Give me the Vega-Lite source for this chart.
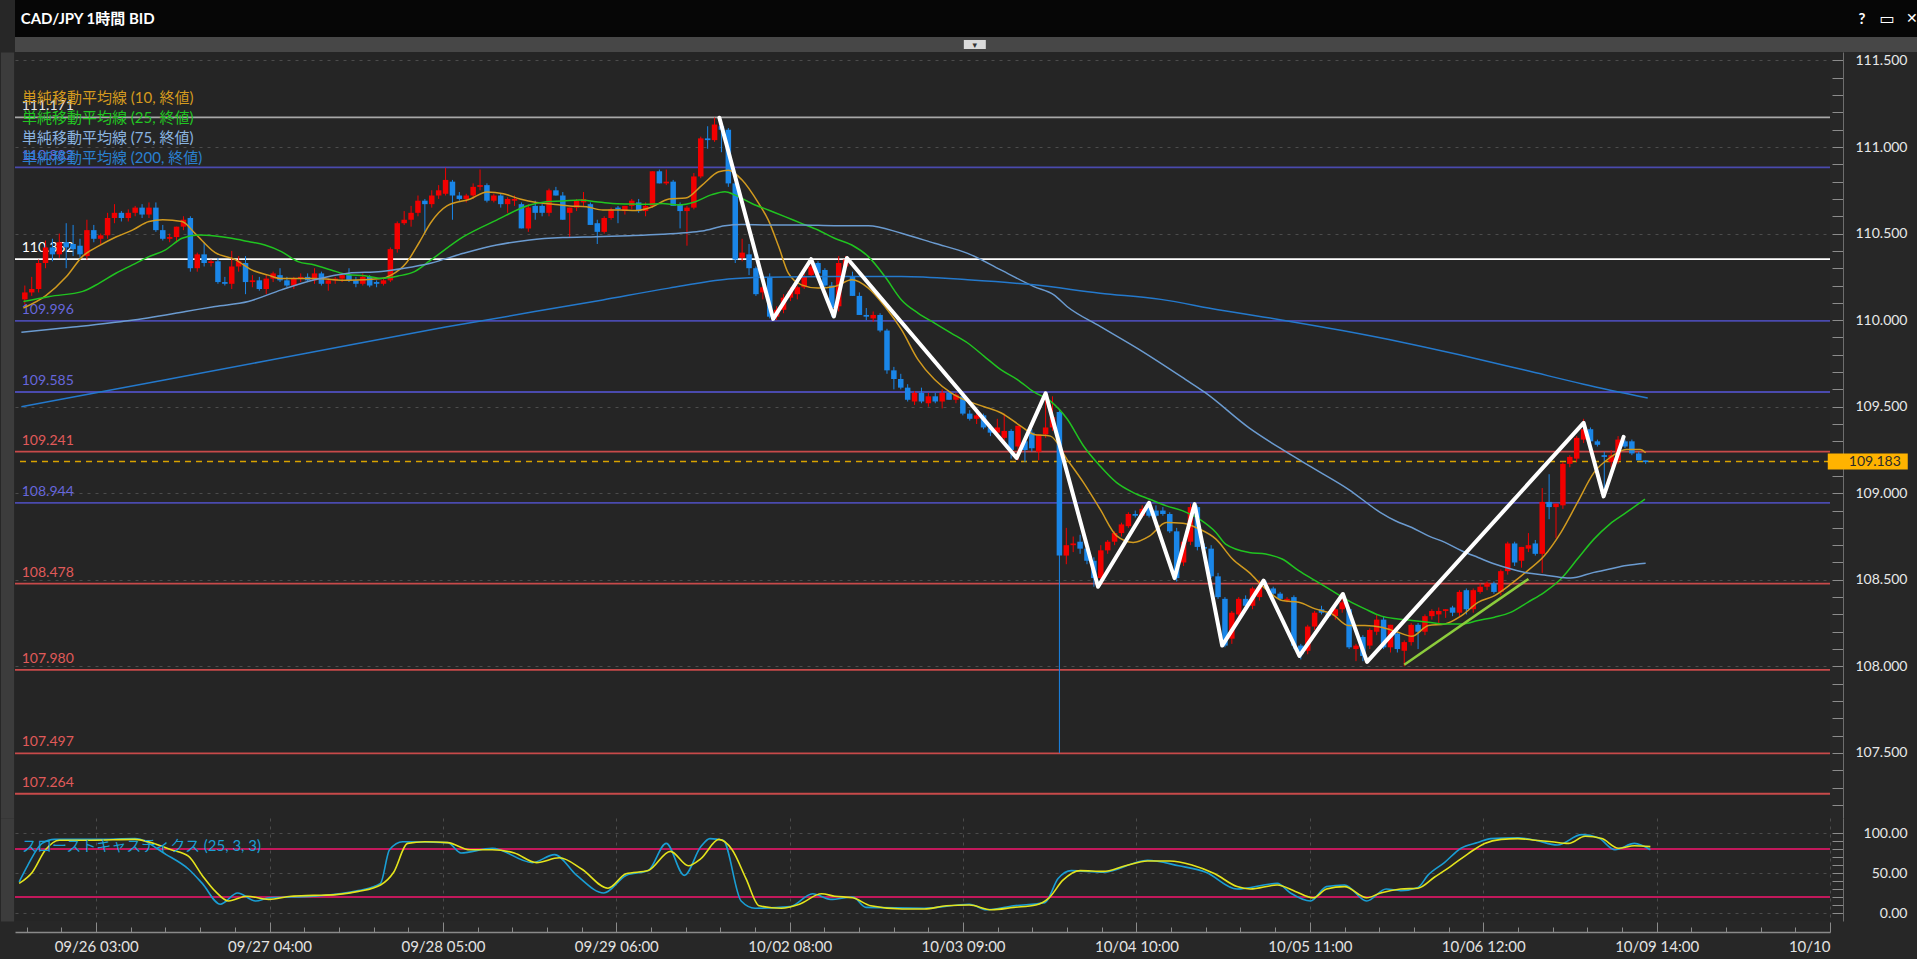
{
"$schema": "https://vega.github.io/schema/vega-lite/v6.json",
"background": "#272727",
"padding": 0,
"spacing": 0,
"align": "none",
"config": {"font": "Lato", "view": {"stroke": null}},
"datasets": {
"candles": [
{"b":-11,"o":110.12,"h":110.2,"l":110.09,"c":110.16},{"b":-10,"o":110.16,"h":110.25,"l":110.14,"c":110.18},{"b":-9,"o":110.18,"h":110.35,"l":110.16,"c":110.33},{"b":-8,"o":110.33,"h":110.46,"l":110.3,"c":110.42},{"b":-7,"o":110.42,"h":110.47,"l":110.34,"c":110.38},{"b":-6,"o":110.38,"h":110.5,"l":110.36,"c":110.45},{"b":-5,"o":110.45,"h":110.56,"l":110.3,"c":110.42},{"b":-4,"o":110.44,"h":110.55,"l":110.37,"c":110.41},{"b":-3,"o":110.43,"h":110.47,"l":110.36,"c":110.38},{"b":-2,"o":110.37,"h":110.58,"l":110.35,"c":110.52},
{"b":-1,"o":110.52,"h":110.55,"l":110.45,"c":110.47},{"b":0,"o":110.47,"h":110.5,"l":110.44,"c":110.49},{"b":1,"o":110.49,"h":110.62,"l":110.47,"c":110.59},{"b":2,"o":110.59,"h":110.67,"l":110.56,"c":110.62},{"b":3,"o":110.62,"h":110.63,"l":110.57,"c":110.59},{"b":4,"o":110.59,"h":110.64,"l":110.57,"c":110.62},{"b":5,"o":110.62,"h":110.66,"l":110.6,"c":110.65},{"b":6,"o":110.65,"h":110.67,"l":110.59,"c":110.61},{"b":7,"o":110.61,"h":110.68,"l":110.59,"c":110.65},{"b":8,"o":110.65,"h":110.68,"l":110.51,"c":110.52},
{"b":9,"o":110.52,"h":110.55,"l":110.46,"c":110.47},{"b":10,"o":110.47,"h":110.5,"l":110.45,"c":110.48},{"b":11,"o":110.48,"h":110.54,"l":110.45,"c":110.54},{"b":12,"o":110.54,"h":110.6,"l":110.52,"c":110.58},{"b":13,"o":110.59,"h":110.6,"l":110.28,"c":110.3},{"b":14,"o":110.3,"h":110.39,"l":110.28,"c":110.38},{"b":15,"o":110.38,"h":110.45,"l":110.31,"c":110.33},{"b":16,"o":110.33,"h":110.35,"l":110.31,"c":110.34},{"b":17,"o":110.34,"h":110.36,"l":110.21,"c":110.22},{"b":18,"o":110.22,"h":110.25,"l":110.2,"c":110.21},
{"b":19,"o":110.21,"h":110.4,"l":110.18,"c":110.31},{"b":20,"o":110.31,"h":110.37,"l":110.28,"c":110.34},{"b":21,"o":110.33,"h":110.37,"l":110.15,"c":110.22},{"b":22,"o":110.22,"h":110.26,"l":110.19,"c":110.23},{"b":23,"o":110.23,"h":110.25,"l":110.17,"c":110.18},{"b":24,"o":110.18,"h":110.26,"l":110.15,"c":110.24},{"b":25,"o":110.24,"h":110.28,"l":110.22,"c":110.27},{"b":26,"o":110.26,"h":110.3,"l":110.22,"c":110.23},{"b":27,"o":110.23,"h":110.25,"l":110.19,"c":110.2},{"b":28,"o":110.2,"h":110.25,"l":110.18,"c":110.24},
{"b":29,"o":110.24,"h":110.27,"l":110.22,"c":110.25},{"b":30,"o":110.25,"h":110.27,"l":110.22,"c":110.23},{"b":31,"o":110.23,"h":110.3,"l":110.21,"c":110.27},{"b":32,"o":110.27,"h":110.28,"l":110.2,"c":110.21},{"b":33,"o":110.21,"h":110.24,"l":110.17,"c":110.23},{"b":34,"o":110.23,"h":110.25,"l":110.21,"c":110.24},{"b":35,"o":110.24,"h":110.27,"l":110.22,"c":110.26},{"b":36,"o":110.26,"h":110.3,"l":110.22,"c":110.23},{"b":37,"o":110.23,"h":110.25,"l":110.19,"c":110.21},{"b":38,"o":110.21,"h":110.27,"l":110.2,"c":110.25},
{"b":39,"o":110.25,"h":110.26,"l":110.19,"c":110.2},{"b":40,"o":110.22,"h":110.23,"l":110.19,"c":110.21},{"b":41,"o":110.21,"h":110.24,"l":110.2,"c":110.23},{"b":42,"o":110.23,"h":110.42,"l":110.22,"c":110.41},{"b":43,"o":110.41,"h":110.57,"l":110.39,"c":110.56},{"b":44,"o":110.56,"h":110.63,"l":110.55,"c":110.58},{"b":45,"o":110.58,"h":110.66,"l":110.54,"c":110.62},{"b":46,"o":110.62,"h":110.72,"l":110.6,"c":110.69},{"b":47,"o":110.69,"h":110.7,"l":110.5,"c":110.67},{"b":48,"o":110.67,"h":110.75,"l":110.65,"c":110.72},
{"b":49,"o":110.72,"h":110.78,"l":110.7,"c":110.75},{"b":50,"o":110.73,"h":110.88,"l":110.72,"c":110.81},{"b":51,"o":110.8,"h":110.81,"l":110.58,"c":110.72},{"b":52,"o":110.72,"h":110.74,"l":110.69,"c":110.7},{"b":53,"o":110.7,"h":110.73,"l":110.68,"c":110.72},{"b":54,"o":110.72,"h":110.79,"l":110.7,"c":110.77},{"b":55,"o":110.77,"h":110.87,"l":110.75,"c":110.78},{"b":56,"o":110.78,"h":110.79,"l":110.68,"c":110.69},{"b":57,"o":110.69,"h":110.73,"l":110.68,"c":110.72},{"b":58,"o":110.72,"h":110.73,"l":110.65,"c":110.67},
{"b":59,"o":110.67,"h":110.71,"l":110.62,"c":110.7},{"b":60,"o":110.69,"h":110.72,"l":110.66,"c":110.7},{"b":61,"o":110.67,"h":110.68,"l":110.53,"c":110.53},{"b":62,"o":110.53,"h":110.67,"l":110.51,"c":110.65},{"b":63,"o":110.66,"h":110.69,"l":110.58,"c":110.62},{"b":64,"o":110.66,"h":110.67,"l":110.6,"c":110.62},{"b":65,"o":110.62,"h":110.76,"l":110.6,"c":110.75},{"b":66,"o":110.75,"h":110.77,"l":110.72,"c":110.72},{"b":67,"o":110.72,"h":110.74,"l":110.58,"c":110.58},{"b":68,"o":110.62,"h":110.65,"l":110.48,"c":110.65},
{"b":69,"o":110.65,"h":110.7,"l":110.63,"c":110.69},{"b":70,"o":110.68,"h":110.74,"l":110.66,"c":110.7},{"b":71,"o":110.67,"h":110.68,"l":110.55,"c":110.55},{"b":72,"o":110.56,"h":110.58,"l":110.44,"c":110.51},{"b":73,"o":110.51,"h":110.6,"l":110.5,"c":110.59},{"b":74,"o":110.59,"h":110.65,"l":110.58,"c":110.64},{"b":75,"o":110.65,"h":110.66,"l":110.56,"c":110.64},{"b":76,"o":110.63,"h":110.66,"l":110.61,"c":110.66},{"b":77,"o":110.66,"h":110.7,"l":110.64,"c":110.69},{"b":78,"o":110.68,"h":110.7,"l":110.62,"c":110.63},
{"b":79,"o":110.63,"h":110.68,"l":110.6,"c":110.66},{"b":80,"o":110.66,"h":110.86,"l":110.65,"c":110.86},{"b":81,"o":110.86,"h":110.87,"l":110.79,"c":110.79},{"b":82,"o":110.79,"h":110.87,"l":110.78,"c":110.8},{"b":83,"o":110.8,"h":110.81,"l":110.66,"c":110.66},{"b":84,"o":110.67,"h":110.68,"l":110.53,"c":110.63},{"b":85,"o":110.63,"h":110.66,"l":110.43,"c":110.65},{"b":86,"o":110.65,"h":110.85,"l":110.64,"c":110.83},{"b":87,"o":110.83,"h":111.06,"l":110.82,"c":111.05},{"b":88,"o":111.05,"h":111.12,"l":110.99,"c":111.04},
{"b":89,"o":111.04,"h":111.17,"l":111.03,"c":111.13},{"b":90,"o":111.12,"h":111.14,"l":110.97,"c":111.1},{"b":91,"o":111.1,"h":111.11,"l":110.77,"c":110.79},{"b":92,"o":110.79,"h":110.8,"l":110.33,"c":110.35},{"b":93,"o":110.36,"h":110.47,"l":110.34,"c":110.39},{"b":94,"o":110.38,"h":110.44,"l":110.26,"c":110.3},{"b":95,"o":110.3,"h":110.31,"l":110.14,"c":110.15},{"b":96,"o":110.16,"h":110.2,"l":110.12,"c":110.19},{"b":97,"o":110.25,"h":110.27,"l":110.01,"c":110.02},{"b":98,"o":110.02,"h":110.08,"l":110.0,"c":110.06},
{"b":99,"o":110.06,"h":110.15,"l":110.04,"c":110.13},{"b":100,"o":110.13,"h":110.19,"l":110.11,"c":110.17},{"b":101,"o":110.15,"h":110.2,"l":110.12,"c":110.19},{"b":102,"o":110.19,"h":110.27,"l":110.18,"c":110.25},{"b":103,"o":110.26,"h":110.35,"l":110.25,"c":110.31},{"b":104,"o":110.33,"h":110.34,"l":110.27,"c":110.27},{"b":105,"o":110.29,"h":110.3,"l":110.19,"c":110.2},{"b":106,"o":110.2,"h":110.22,"l":110.02,"c":110.07},{"b":107,"o":110.08,"h":110.37,"l":110.05,"c":110.33},{"b":108,"o":110.31,"h":110.37,"l":110.29,"c":110.35},
{"b":109,"o":110.25,"h":110.28,"l":110.14,"c":110.14},{"b":110,"o":110.14,"h":110.16,"l":110.03,"c":110.03},{"b":111,"o":110.03,"h":110.07,"l":110.0,"c":110.02},{"b":112,"o":110.01,"h":110.05,"l":109.99,"c":110.03},{"b":113,"o":110.03,"h":110.04,"l":109.93,"c":109.94},{"b":114,"o":109.94,"h":109.95,"l":109.69,"c":109.71},{"b":115,"o":109.71,"h":109.73,"l":109.6,"c":109.66},{"b":116,"o":109.66,"h":109.69,"l":109.6,"c":109.61},{"b":117,"o":109.61,"h":109.63,"l":109.53,"c":109.54},{"b":118,"o":109.53,"h":109.59,"l":109.51,"c":109.58},
{"b":119,"o":109.58,"h":109.61,"l":109.52,"c":109.53},{"b":120,"o":109.52,"h":109.58,"l":109.5,"c":109.56},{"b":121,"o":109.56,"h":109.58,"l":109.52,"c":109.53},{"b":122,"o":109.53,"h":109.6,"l":109.49,"c":109.58},{"b":123,"o":109.58,"h":109.59,"l":109.54,"c":109.54},{"b":124,"o":109.54,"h":109.58,"l":109.52,"c":109.57},{"b":125,"o":109.56,"h":109.57,"l":109.45,"c":109.46},{"b":126,"o":109.46,"h":109.48,"l":109.42,"c":109.43},{"b":127,"o":109.43,"h":109.47,"l":109.4,"c":109.45},{"b":128,"o":109.45,"h":109.46,"l":109.37,"c":109.38},
{"b":129,"o":109.38,"h":109.4,"l":109.33,"c":109.35},{"b":130,"o":109.35,"h":109.43,"l":109.33,"c":109.38},{"b":131,"o":109.32,"h":109.46,"l":109.3,"c":109.36},{"b":132,"o":109.36,"h":109.37,"l":109.2,"c":109.25},{"b":133,"o":109.27,"h":109.39,"l":109.19,"c":109.39},{"b":134,"o":109.3,"h":109.33,"l":109.18,"c":109.25},{"b":135,"o":109.35,"h":109.37,"l":109.24,"c":109.26},{"b":136,"o":109.24,"h":109.34,"l":109.19,"c":109.34},{"b":137,"o":109.34,"h":109.58,"l":109.32,"c":109.38},{"b":138,"o":109.38,"h":109.56,"l":109.36,"c":109.44},
{"b":139,"o":109.47,"h":109.48,"l":107.5,"c":108.64},{"b":140,"o":108.64,"h":108.8,"l":108.59,"c":108.7},{"b":141,"o":108.7,"h":108.75,"l":108.66,"c":108.71},{"b":142,"o":108.72,"h":108.76,"l":108.65,"c":108.68},{"b":143,"o":108.68,"h":108.7,"l":108.59,"c":108.61},{"b":144,"o":108.61,"h":108.63,"l":108.46,"c":108.51},{"b":145,"o":108.51,"h":108.7,"l":108.48,"c":108.67},{"b":146,"o":108.67,"h":108.73,"l":108.65,"c":108.72},{"b":147,"o":108.72,"h":108.78,"l":108.7,"c":108.77},{"b":148,"o":108.77,"h":108.83,"l":108.75,"c":108.82},
{"b":149,"o":108.81,"h":108.89,"l":108.8,"c":108.88},{"b":150,"o":108.88,"h":108.9,"l":108.86,"c":108.87},{"b":151,"o":108.87,"h":108.93,"l":108.86,"c":108.91},{"b":152,"o":108.92,"h":108.95,"l":108.86,"c":108.87},{"b":153,"o":108.9,"h":108.93,"l":108.86,"c":108.87},{"b":154,"o":108.9,"h":108.92,"l":108.87,"c":108.88},{"b":155,"o":108.88,"h":108.89,"l":108.77,"c":108.78},{"b":156,"o":108.78,"h":108.8,"l":108.49,"c":108.51},{"b":157,"o":108.6,"h":108.74,"l":108.58,"c":108.72},{"b":158,"o":108.72,"h":108.94,"l":108.7,"c":108.92},
{"b":159,"o":108.92,"h":108.93,"l":108.67,"c":108.69},{"b":160,"o":108.69,"h":108.71,"l":108.66,"c":108.68},{"b":161,"o":108.68,"h":108.7,"l":108.51,"c":108.52},{"b":162,"o":108.52,"h":108.54,"l":108.39,"c":108.4},{"b":163,"o":108.39,"h":108.4,"l":108.11,"c":108.12},{"b":164,"o":108.16,"h":108.32,"l":108.13,"c":108.31},{"b":165,"o":108.3,"h":108.4,"l":108.28,"c":108.39},{"b":166,"o":108.39,"h":108.41,"l":108.34,"c":108.35},{"b":167,"o":108.35,"h":108.46,"l":108.33,"c":108.45},{"b":168,"o":108.4,"h":108.5,"l":108.38,"c":108.46},
{"b":169,"o":108.46,"h":108.49,"l":108.44,"c":108.45},{"b":170,"o":108.45,"h":108.46,"l":108.41,"c":108.42},{"b":171,"o":108.42,"h":108.43,"l":108.38,"c":108.39},{"b":172,"o":108.38,"h":108.4,"l":108.37,"c":108.39},{"b":173,"o":108.4,"h":108.41,"l":108.1,"c":108.12},{"b":174,"o":108.12,"h":108.13,"l":108.04,"c":108.07},{"b":175,"o":108.09,"h":108.24,"l":108.07,"c":108.23},{"b":176,"o":108.23,"h":108.32,"l":108.21,"c":108.31},{"b":177,"o":108.33,"h":108.35,"l":108.3,"c":108.31},{"b":178,"o":108.31,"h":108.32,"l":108.28,"c":108.29},
{"b":179,"o":108.29,"h":108.34,"l":108.27,"c":108.33},{"b":180,"o":108.33,"h":108.42,"l":108.31,"c":108.37},{"b":181,"o":108.33,"h":108.34,"l":108.1,"c":108.11},{"b":182,"o":108.1,"h":108.13,"l":108.03,"c":108.12},{"b":183,"o":108.17,"h":108.18,"l":108.03,"c":108.06},{"b":184,"o":108.12,"h":108.22,"l":108.1,"c":108.21},{"b":185,"o":108.2,"h":108.3,"l":108.18,"c":108.27},{"b":186,"o":108.27,"h":108.29,"l":108.1,"c":108.11},{"b":187,"o":108.11,"h":108.24,"l":108.08,"c":108.24},{"b":188,"o":108.19,"h":108.21,"l":108.08,"c":108.1},
{"b":189,"o":108.09,"h":108.15,"l":108.0,"c":108.14},{"b":190,"o":108.14,"h":108.25,"l":108.12,"c":108.24},{"b":191,"o":108.24,"h":108.25,"l":108.1,"c":108.2},{"b":192,"o":108.2,"h":108.3,"l":108.18,"c":108.29},{"b":193,"o":108.29,"h":108.33,"l":108.27,"c":108.32},{"b":194,"o":108.3,"h":108.34,"l":108.25,"c":108.32},{"b":195,"o":108.32,"h":108.33,"l":108.28,"c":108.33},{"b":196,"o":108.34,"h":108.35,"l":108.29,"c":108.31},{"b":197,"o":108.31,"h":108.44,"l":108.29,"c":108.43},{"b":198,"o":108.44,"h":108.45,"l":108.3,"c":108.33},
{"b":199,"o":108.33,"h":108.45,"l":108.31,"c":108.44},{"b":200,"o":108.43,"h":108.48,"l":108.42,"c":108.46},{"b":201,"o":108.46,"h":108.49,"l":108.44,"c":108.48},{"b":202,"o":108.48,"h":108.49,"l":108.42,"c":108.43},{"b":203,"o":108.43,"h":108.56,"l":108.41,"c":108.55},{"b":204,"o":108.55,"h":108.72,"l":108.53,"c":108.71},{"b":205,"o":108.71,"h":108.72,"l":108.58,"c":108.6},{"b":206,"o":108.61,"h":108.69,"l":108.57,"c":108.69},{"b":207,"o":108.68,"h":108.77,"l":108.66,"c":108.7},{"b":208,"o":108.71,"h":108.73,"l":108.64,"c":108.65},
{"b":209,"o":108.65,"h":109.03,"l":108.54,"c":108.95},{"b":210,"o":108.95,"h":109.11,"l":108.85,"c":108.92},{"b":211,"o":108.92,"h":108.94,"l":108.74,"c":108.94},{"b":212,"o":108.93,"h":109.18,"l":108.91,"c":109.17},{"b":213,"o":109.17,"h":109.22,"l":109.15,"c":109.21},{"b":214,"o":109.2,"h":109.33,"l":109.18,"c":109.32},{"b":215,"o":109.31,"h":109.43,"l":109.29,"c":109.37},{"b":216,"o":109.37,"h":109.38,"l":109.28,"c":109.3},{"b":217,"o":109.3,"h":109.31,"l":109.27,"c":109.28},{"b":218,"o":109.22,"h":109.24,"l":108.98,"c":109.21},
{"b":219,"o":109.18,"h":109.25,"l":109.15,"c":109.22},{"b":220,"o":109.19,"h":109.33,"l":109.17,"c":109.31},{"b":221,"o":109.3,"h":109.31,"l":109.26,"c":109.27},{"b":222,"o":109.3,"h":109.31,"l":109.22,"c":109.23},{"b":223,"o":109.23,"h":109.24,"l":109.19,"c":109.19},{"b":224,"o":109.19,"h":109.19,"l":109.17,"c":109.18}
],
"ma": [
{"s":"10","b":-11.2,"v":110.07},{"s":"10","b":-8,"v":110.14},{"s":"10","b":-5,"v":110.25},{"s":"10","b":-2.6,"v":110.37},{"s":"10","b":-0.2,"v":110.43},{"s":"10","b":2.2,"v":110.48},{"s":"10","b":4.6,"v":110.52},{"s":"10","b":7,"v":110.57},{"s":"10","b":9,"v":110.58},{"s":"10","b":11.8,"v":110.57},{"s":"10","b":13.7,"v":110.5},{"s":"10","b":16.6,"v":110.39},{"s":"10","b":19.5,"v":110.35},{"s":"10","b":21.9,"v":110.29},{"s":"10","b":24.3,"v":110.26},{"s":"10","b":26.2,"v":110.24},{"s":"10","b":31,"v":110.24},{"s":"10","b":35.9,"v":110.23},{"s":"10","b":40.7,"v":110.24},{"s":"10","b":42.1,"v":110.26},{"s":"10","b":44.3,"v":110.33},{"s":"10","b":46.2,"v":110.45},{"s":"10","b":47.8,"v":110.56},{"s":"10","b":50.2,"v":110.66},{"s":"10","b":53.6,"v":110.7},{"s":"10","b":56,"v":110.74},{"s":"10","b":58.4,"v":110.73},{"s":"10","b":60.8,"v":110.7},{"s":"10","b":63.2,"v":110.68},{"s":"10","b":65.6,"v":110.67},{"s":"10","b":68,"v":110.66},{"s":"10","b":70.4,"v":110.655},{"s":"10","b":72.8,"v":110.636},{"s":"10","b":75.2,"v":110.636},{"s":"10","b":77.6,"v":110.633},{"s":"10","b":80,"v":110.655},{"s":"10","b":82.4,"v":110.7},{"s":"10","b":84.8,"v":110.705},{"s":"10","b":87.2,"v":110.78},{"s":"10","b":89.6,"v":110.857},{"s":"10","b":91,"v":110.866},{"s":"10","b":93,"v":110.809},{"s":"10","b":95.4,"v":110.674},{"s":"10","b":96.8,"v":110.578},{"s":"10","b":98.3,"v":110.425},{"s":"10","b":99.7,"v":110.271},{"s":"10","b":101.6,"v":110.204},{"s":"10","b":104,"v":110.185},{"s":"10","b":106.4,"v":110.194},{"s":"10","b":108.9,"v":110.233},{"s":"10","b":111.3,"v":110.185},{"s":"10","b":113.7,"v":110.079},{"s":"10","b":116.1,"v":109.945},{"s":"10","b":118.5,"v":109.772},{"s":"10","b":120.9,"v":109.657},{"s":"10","b":123.3,"v":109.58},{"s":"10","b":125.7,"v":109.532},{"s":"10","b":128.1,"v":109.5},{"s":"10","b":130.5,"v":109.465},{"s":"10","b":133.4,"v":109.388},{"s":"10","b":135.3,"v":109.34},{"s":"10","b":137.7,"v":109.33},{"s":"10","b":140.1,"v":109.196},{"s":"10","b":142.5,"v":109.061},{"s":"10","b":144.9,"v":108.908},{"s":"10","b":147.3,"v":108.754},{"s":"10","b":149.7,"v":108.716},{"s":"10","b":152.1,"v":108.754},{"s":"10","b":154.5,"v":108.831},{"s":"10","b":156.9,"v":108.827},{"s":"10","b":159.3,"v":108.793},{"s":"10","b":161.7,"v":108.735},{"s":"10","b":164.1,"v":108.62},{"s":"10","b":166.5,"v":108.543},{"s":"10","b":168.9,"v":108.447},{"s":"10","b":171.3,"v":108.38},{"s":"10","b":173.7,"v":108.37},{"s":"10","b":176.1,"v":108.332},{"s":"10","b":178.5,"v":108.303},{"s":"10","b":180.9,"v":108.236},{"s":"10","b":183.3,"v":108.236},{"s":"10","b":185.7,"v":108.226},{"s":"10","b":188.1,"v":108.197},{"s":"10","b":190.1,"v":108.174},{"s":"10","b":192.5,"v":108.236},{"s":"10","b":194.9,"v":108.245},{"s":"10","b":197.3,"v":108.293},{"s":"10","b":199.7,"v":108.37},{"s":"10","b":202.1,"v":108.409},{"s":"10","b":204.5,"v":108.476},{"s":"10","b":206.9,"v":108.553},{"s":"10","b":209.3,"v":108.639},{"s":"10","b":211.7,"v":108.773},{"s":"10","b":214.1,"v":108.946},{"s":"10","b":216.5,"v":109.119},{"s":"10","b":218.8,"v":109.205},{"s":"10","b":221.2,"v":109.253},{"s":"10","b":223.2,"v":109.253},{"s":"10","b":224,"v":109.234},
{"s":"25","b":-11.2,"v":110.108},{"s":"25","b":-7.4,"v":110.137},{"s":"25","b":-2.6,"v":110.166},{"s":"25","b":-0.2,"v":110.214},{"s":"25","b":2.2,"v":110.271},{"s":"25","b":4.6,"v":110.319},{"s":"25","b":7,"v":110.367},{"s":"25","b":9.4,"v":110.406},{"s":"25","b":11.8,"v":110.473},{"s":"25","b":14.2,"v":110.492},{"s":"25","b":16.6,"v":110.486},{"s":"25","b":19,"v":110.473},{"s":"25","b":21.4,"v":110.454},{"s":"25","b":23.8,"v":110.434},{"s":"25","b":26.2,"v":110.396},{"s":"25","b":28.6,"v":110.338},{"s":"25","b":31,"v":110.319},{"s":"25","b":33.4,"v":110.29},{"s":"25","b":35.9,"v":110.262},{"s":"25","b":38.3,"v":110.256},{"s":"25","b":40.7,"v":110.242},{"s":"25","b":43.1,"v":110.255},{"s":"25","b":45.5,"v":110.28},{"s":"25","b":47.8,"v":110.345},{"s":"25","b":52.6,"v":110.482},{"s":"25","b":57.4,"v":110.578},{"s":"25","b":62.2,"v":110.665},{"s":"25","b":64.6,"v":110.684},{"s":"25","b":67,"v":110.688},{"s":"25","b":69.4,"v":110.694},{"s":"25","b":71.8,"v":110.684},{"s":"25","b":74.2,"v":110.674},{"s":"25","b":76.6,"v":110.671},{"s":"25","b":79,"v":110.669},{"s":"25","b":81.4,"v":110.674},{"s":"25","b":83.8,"v":110.665},{"s":"25","b":86.2,"v":110.684},{"s":"25","b":88.6,"v":110.725},{"s":"25","b":90.5,"v":110.742},{"s":"25","b":92,"v":110.722},{"s":"25","b":94.4,"v":110.674},{"s":"25","b":96.8,"v":110.636},{"s":"25","b":99.2,"v":110.598},{"s":"25","b":101.6,"v":110.559},{"s":"25","b":104,"v":110.521},{"s":"25","b":106.4,"v":110.473},{"s":"25","b":108.9,"v":110.434},{"s":"25","b":111.3,"v":110.367},{"s":"25","b":113.7,"v":110.252},{"s":"25","b":116.1,"v":110.117},{"s":"25","b":118.5,"v":110.041},{"s":"25","b":120.9,"v":109.983},{"s":"25","b":123.3,"v":109.925},{"s":"25","b":125.7,"v":109.868},{"s":"25","b":128.1,"v":109.791},{"s":"25","b":130.5,"v":109.714},{"s":"25","b":132.9,"v":109.657},{"s":"25","b":135.3,"v":109.585},{"s":"25","b":137.7,"v":109.532},{"s":"25","b":140.1,"v":109.43},{"s":"25","b":142.5,"v":109.273},{"s":"25","b":144.9,"v":109.157},{"s":"25","b":147.3,"v":109.061},{"s":"25","b":149.7,"v":109.004},{"s":"25","b":152.1,"v":108.965},{"s":"25","b":154.5,"v":108.927},{"s":"25","b":156.9,"v":108.898},{"s":"25","b":159.3,"v":108.85},{"s":"25","b":161.7,"v":108.773},{"s":"25","b":163.1,"v":108.706},{"s":"25","b":166.5,"v":108.658},{"s":"25","b":168.9,"v":108.649},{"s":"25","b":171.3,"v":108.62},{"s":"25","b":173.7,"v":108.553},{"s":"25","b":176.1,"v":108.495},{"s":"25","b":178.5,"v":108.437},{"s":"25","b":180.9,"v":108.38},{"s":"25","b":183.3,"v":108.332},{"s":"25","b":185.7,"v":108.29},{"s":"25","b":188.1,"v":108.274},{"s":"25","b":190.1,"v":108.265},{"s":"25","b":192.5,"v":108.255},{"s":"25","b":194.9,"v":108.245},{"s":"25","b":197.3,"v":108.245},{"s":"25","b":199.7,"v":108.265},{"s":"25","b":202.1,"v":108.284},{"s":"25","b":204.5,"v":108.313},{"s":"25","b":206.9,"v":108.37},{"s":"25","b":209.3,"v":108.428},{"s":"25","b":211.7,"v":108.505},{"s":"25","b":214.1,"v":108.62},{"s":"25","b":216.5,"v":108.735},{"s":"25","b":218.8,"v":108.822},{"s":"25","b":221.2,"v":108.889},{"s":"25","b":223.9,"v":108.966},
{"s":"75","b":-11.5,"v":109.93},{"s":"75","b":-4,"v":109.96},{"s":"75","b":4.2,"v":109.998},{"s":"75","b":12.3,"v":110.05},{"s":"75","b":16.6,"v":110.079},{"s":"75","b":21.4,"v":110.108},{"s":"75","b":26.2,"v":110.175},{"s":"75","b":31,"v":110.233},{"s":"75","b":35.9,"v":110.271},{"s":"75","b":40.7,"v":110.281},{"s":"75","b":44,"v":110.3},{"s":"75","b":47.8,"v":110.329},{"s":"75","b":52.6,"v":110.386},{"s":"75","b":57.4,"v":110.434},{"s":"75","b":62.2,"v":110.463},{"s":"75","b":67,"v":110.477},{"s":"75","b":71.8,"v":110.482},{"s":"75","b":76.6,"v":110.488},{"s":"75","b":81.4,"v":110.496},{"s":"75","b":84.8,"v":110.505},{"s":"75","b":87.2,"v":110.515},{"s":"75","b":90.5,"v":110.545},{"s":"75","b":93,"v":110.552},{"s":"75","b":96.8,"v":110.55},{"s":"75","b":101.6,"v":110.55},{"s":"75","b":106.4,"v":110.546},{"s":"75","b":111.3,"v":110.546},{"s":"75","b":116.1,"v":110.502},{"s":"75","b":120.9,"v":110.444},{"s":"75","b":125.7,"v":110.386},{"s":"75","b":130.5,"v":110.29},{"s":"75","b":135.3,"v":110.194},{"s":"75","b":138.2,"v":110.146},{"s":"75","b":140.1,"v":110.079},{"s":"75","b":144.9,"v":109.964},{"s":"75","b":151,"v":109.82},{"s":"75","b":157.3,"v":109.657},{"s":"75","b":160.2,"v":109.58},{"s":"75","b":166.5,"v":109.378},{"s":"75","b":171.3,"v":109.253},{"s":"75","b":176.1,"v":109.138},{"s":"75","b":180.9,"v":109.023},{"s":"75","b":185.5,"v":108.89},{"s":"75","b":187.7,"v":108.841},{"s":"75","b":190.1,"v":108.802},{"s":"75","b":192.5,"v":108.754},{"s":"75","b":194.9,"v":108.716},{"s":"75","b":197.3,"v":108.668},{"s":"75","b":199.7,"v":108.629},{"s":"75","b":202.1,"v":108.591},{"s":"75","b":204.5,"v":108.562},{"s":"75","b":206.9,"v":108.539},{"s":"75","b":209.3,"v":108.528},{"s":"75","b":211.7,"v":108.514},{"s":"75","b":213.1,"v":108.51},{"s":"75","b":216.5,"v":108.543},{"s":"75","b":218.8,"v":108.562},{"s":"75","b":221.2,"v":108.582},{"s":"75","b":224,"v":108.595},
{"s":"200","b":-11.5,"v":109.5},{"s":"200","b":10,"v":109.66},{"s":"200","b":30,"v":109.81},{"s":"200","b":50,"v":109.96},{"s":"200","b":72.8,"v":110.117},{"s":"200","b":82.4,"v":110.185},{"s":"200","b":91,"v":110.237},{"s":"200","b":96.8,"v":110.248},{"s":"200","b":106.4,"v":110.252},{"s":"200","b":116.1,"v":110.252},{"s":"200","b":125.7,"v":110.233},{"s":"200","b":135.3,"v":110.204},{"s":"200","b":144.9,"v":110.156},{"s":"200","b":153.7,"v":110.12},{"s":"200","b":162,"v":110.06},{"s":"200","b":171.4,"v":110.0},{"s":"200","b":180,"v":109.94},{"s":"200","b":189,"v":109.87},{"s":"200","b":197,"v":109.8},{"s":"200","b":206.6,"v":109.71},{"s":"200","b":215,"v":109.63},{"s":"200","b":224.3,"v":109.55}
],
"levels": [
{"v":111.171,"k":"g"},{"v":110.882,"k":"p"},{"v":110.352,"k":"w"},{"v":109.996,"k":"p"},{"v":109.585,"k":"p"},{"v":109.241,"k":"r"},{"v":108.944,"k":"p"},{"v":108.478,"k":"r"},{"v":107.98,"k":"r"},{"v":107.497,"k":"r"},{"v":107.264,"k":"r"}
],
"zigzag": [
{"b":89.7,"v":111.169},{"b":97.5,"v":110.007},{"b":103.0,"v":110.352},{"b":106.3,"v":110.021},{"b":108.2,"v":110.359},{"b":132.8,"v":109.204},{"b":137.0,"v":109.577},{"b":144.6,"v":108.46},{"b":152.0,"v":108.945},{"b":155.7,"v":108.51},{"b":158.6,"v":108.937},{"b":162.6,"v":108.12},{"b":168.6,"v":108.495},{"b":173.8,"v":108.06},{"b":180.1,"v":108.418},{"b":183.6,"v":108.026},{"b":215.0,"v":109.407},{"b":217.9,"v":108.982},{"b":220.8,"v":109.326}
],
"trend": [{"b":189,"v":108.009},{"b":207,"v":108.505}],
"price": [{"p":109.183}],
"stoch": [
{"s":"K","b":-11.1,"v":39},{"s":"K","b":-9.9,"v":59},{"s":"K","b":-7.8,"v":87},{"s":"K","b":-6,"v":92},{"s":"K","b":0,"v":92},{"s":"K","b":5.6,"v":93},{"s":"K","b":10.1,"v":73},{"s":"K","b":13.3,"v":55},{"s":"K","b":15.3,"v":37},{"s":"K","b":17.9,"v":11},{"s":"K","b":20.4,"v":25},{"s":"K","b":23,"v":15},{"s":"K","b":24.9,"v":19},{"s":"K","b":31.4,"v":21},{"s":"K","b":37.8,"v":28},{"s":"K","b":41,"v":37},{"s":"K","b":42.3,"v":79},{"s":"K","b":44.2,"v":89},{"s":"K","b":50.7,"v":88},{"s":"K","b":52.6,"v":75},{"s":"K","b":57.1,"v":81},{"s":"K","b":62.9,"v":63},{"s":"K","b":66.1,"v":73},{"s":"K","b":69.3,"v":47},{"s":"K","b":73.2,"v":25},{"s":"K","b":76.4,"v":47},{"s":"K","b":79.6,"v":53},{"s":"K","b":82.2,"v":87},{"s":"K","b":84.8,"v":47},{"s":"K","b":87.2,"v":83},{"s":"K","b":88.5,"v":93},{"s":"K","b":90.4,"v":91},{"s":"K","b":93,"v":15},{"s":"K","b":95,"v":6},{"s":"K","b":100.1,"v":8},{"s":"K","b":103.3,"v":24},{"s":"K","b":105.9,"v":17},{"s":"K","b":109.1,"v":20},{"s":"K","b":111,"v":7},{"s":"K","b":119.4,"v":6},{"s":"K","b":125.9,"v":11},{"s":"K","b":128.4,"v":4},{"s":"K","b":132.3,"v":9},{"s":"K","b":136.8,"v":13},{"s":"K","b":138.7,"v":43},{"s":"K","b":140.6,"v":53},{"s":"K","b":145.2,"v":51},{"s":"K","b":151.6,"v":66},{"s":"K","b":156.1,"v":59},{"s":"K","b":160,"v":51},{"s":"K","b":164.5,"v":30},{"s":"K","b":170.3,"v":37},{"s":"K","b":172.2,"v":25},{"s":"K","b":175.1,"v":15},{"s":"K","b":177.4,"v":33},{"s":"K","b":180,"v":35},{"s":"K","b":183.2,"v":15},{"s":"K","b":186,"v":30},{"s":"K","b":188.1,"v":28},{"s":"K","b":190.6,"v":32},{"s":"K","b":192,"v":47},{"s":"K","b":194.4,"v":63},{"s":"K","b":196.8,"v":81},{"s":"K","b":199.2,"v":88},{"s":"K","b":201.1,"v":93},{"s":"K","b":205,"v":94},{"s":"K","b":207.5,"v":91},{"s":"K","b":210.7,"v":85},{"s":"K","b":214.2,"v":98},{"s":"K","b":216.6,"v":94},{"s":"K","b":219,"v":79},{"s":"K","b":221.8,"v":87},{"s":"K","b":224.1,"v":79},
{"s":"D","b":-11.1,"v":37},{"s":"D","b":-9.2,"v":51},{"s":"D","b":-7.3,"v":79},{"s":"D","b":-5.3,"v":91},{"s":"D","b":-0.8,"v":91},{"s":"D","b":5.6,"v":92},{"s":"D","b":10.8,"v":79},{"s":"D","b":13.3,"v":71},{"s":"D","b":15.3,"v":47},{"s":"D","b":17.2,"v":27},{"s":"D","b":19.1,"v":15},{"s":"D","b":21.7,"v":21},{"s":"D","b":24.9,"v":17},{"s":"D","b":28.1,"v":21},{"s":"D","b":31.4,"v":22},{"s":"D","b":34.6,"v":23},{"s":"D","b":37.8,"v":27},{"s":"D","b":41,"v":35},{"s":"D","b":42.9,"v":51},{"s":"D","b":44.9,"v":87},{"s":"D","b":47.4,"v":89},{"s":"D","b":50.7,"v":88},{"s":"D","b":53.9,"v":79},{"s":"D","b":57.1,"v":79},{"s":"D","b":60.3,"v":75},{"s":"D","b":63.5,"v":63},{"s":"D","b":66.8,"v":69},{"s":"D","b":70,"v":55},{"s":"D","b":73.8,"v":31},{"s":"D","b":76.4,"v":49},{"s":"D","b":79.6,"v":53},{"s":"D","b":82.8,"v":77},{"s":"D","b":85.4,"v":59},{"s":"D","b":87.2,"v":68},{"s":"D","b":89.8,"v":92},{"s":"D","b":91.7,"v":79},{"s":"D","b":93.7,"v":43},{"s":"D","b":95.6,"v":9},{"s":"D","b":98.8,"v":6},{"s":"D","b":101.4,"v":11},{"s":"D","b":104.6,"v":24},{"s":"D","b":106.5,"v":21},{"s":"D","b":109.1,"v":19},{"s":"D","b":111.7,"v":9},{"s":"D","b":116.2,"v":5},{"s":"D","b":119.4,"v":5},{"s":"D","b":122.6,"v":9},{"s":"D","b":125.9,"v":10},{"s":"D","b":129.1,"v":4},{"s":"D","b":132.3,"v":7},{"s":"D","b":135.5,"v":10},{"s":"D","b":137.4,"v":19},{"s":"D","b":139.4,"v":41},{"s":"D","b":141.9,"v":53},{"s":"D","b":145.2,"v":52},{"s":"D","b":148.4,"v":59},{"s":"D","b":151.6,"v":65},{"s":"D","b":154.8,"v":65},{"s":"D","b":158,"v":60},{"s":"D","b":161.3,"v":49},{"s":"D","b":164.5,"v":33},{"s":"D","b":166.4,"v":30},{"s":"D","b":170.3,"v":35},{"s":"D","b":172.9,"v":27},{"s":"D","b":175.5,"v":19},{"s":"D","b":177.4,"v":30},{"s":"D","b":180,"v":33},{"s":"D","b":183.2,"v":19},{"s":"D","b":185.2,"v":25},{"s":"D","b":188.1,"v":30},{"s":"D","b":190.6,"v":31},{"s":"D","b":193,"v":45},{"s":"D","b":195.4,"v":59},{"s":"D","b":197.8,"v":74},{"s":"D","b":200.2,"v":87},{"s":"D","b":202.6,"v":92},{"s":"D","b":205,"v":93},{"s":"D","b":207.5,"v":91},{"s":"D","b":209.9,"v":89},{"s":"D","b":212.3,"v":87},{"s":"D","b":214.7,"v":96},{"s":"D","b":217.1,"v":93},{"s":"D","b":219.5,"v":81},{"s":"D","b":221.8,"v":84},{"s":"D","b":224.1,"v":83}
],
"stochLevels": [{"v":80},{"v":20}]
},
"resolve": {"scale": {"x": "independent", "y": "independent", "color": "independent", "stroke": "independent", "fill": "independent"}, "legend": {"color": "independent"}},
"vconcat": [
{
"width": 1917, "height": 37,
"view": {"fill": "#060606", "stroke": null},
"layer": [
{"data": {"values": [{"t": "CAD/JPY 1時間 BID"}]}, "mark": {"type": "text", "align": "left", "baseline": "middle", "font": "Lato, 'Noto Sans CJK JP'", "fontSize": 15, "fontWeight": "bold", "color": "#ffffff"},
 "encoding": {"text": {"field": "t"}, "x": {"datum": 0.003, "type": "quantitative", "scale": {"domain": [0, 1], "nice": false, "zero": false}, "axis": null}}},
{"data": {"values": [{"t": "?"}]}, "mark": {"type": "text", "align": "center", "baseline": "middle", "font": "Lato", "fontSize": 15, "fontWeight": "bold", "color": "#ffffff"},
 "encoding": {"text": {"field": "t"}, "x": {"datum": 0.9635, "type": "quantitative", "scale": {"domain": [0, 1], "nice": false, "zero": false}, "axis": null}}},
{"data": {"values": [{"t": "▭"}]}, "mark": {"type": "text", "align": "center", "baseline": "middle", "font": "DejaVu Sans", "fontSize": 16, "fontWeight": "bold", "color": "#ffffff"},
 "encoding": {"text": {"field": "t"}, "x": {"datum": 0.9765, "type": "quantitative", "scale": {"domain": [0, 1], "nice": false, "zero": false}, "axis": null}}},
{"data": {"values": [{"t": "✕"}]}, "mark": {"type": "text", "align": "center", "baseline": "middle", "font": "DejaVu Sans", "fontSize": 14, "color": "#ffffff"},
 "encoding": {"text": {"field": "t"}, "x": {"datum": 0.9895, "type": "quantitative", "scale": {"domain": [0, 1], "nice": false, "zero": false}, "axis": null}}}
]
},
{
"width": 1912, "height": 15,
"view": {"fill": "#474747", "stroke": null},
"layer": [
{"data": {"values": [{"t": "▾"}]}, "mark": {"type": "tick", "orient": "horizontal", "color": "#dadada", "size": 22, "thickness": 9, "opacity": 1},
 "encoding": {"x": {"datum": 0.502, "type": "quantitative", "scale": {"domain": [0, 1], "nice": false, "zero": false}, "axis": null}}},
{"data": {"values": [{"t": "▾"}]}, "mark": {"type": "text", "align": "center", "baseline": "middle", "font": "DejaVu Sans", "fontSize": 9, "color": "#333333"},
 "encoding": {"text": {"field": "t"}, "x": {"datum": 0.502, "type": "quantitative", "scale": {"domain": [0, 1], "nice": false, "zero": false}, "axis": null}}}
]
},
{
"width": 1815, "height": 766,
"view": {"fill": "#252525", "stroke": null},
"resolve": {"axis": {"y": "independent"}},
"layer": [
{"data": {"name": "levels"}, "mark": {"type": "rule", "strokeWidth": 1.8},
 "encoding": {
  "y": {"field": "v", "type": "quantitative", "scale": {"domain": [107.124, 111.549], "nice": false, "zero": false},
        "axis": {"orient": "left", "offset": 8, "values": [107.5,108,108.5,109,109.5,110,110.5,111,111.5], "grid": true, "gridColor": "#4c4c4c", "gridDash": [3,5], "labels": false, "ticks": false, "domain": true, "domainColor": "#3c3c3c", "domainWidth": 13, "minExtent": 7, "maxExtent": 7, "title": null}},
  "stroke": {"field": "k", "type": "nominal", "scale": {"domain": ["g","p","w","r"], "range": ["#a8a8a8","#4a4aae","#ffffff","#c84a4a"]}, "legend": null}}},
{"data": {"name": "levels"}, "mark": {"type": "text", "align": "left", "baseline": "alphabetic", "dy": -7, "font": "Lato", "fontSize": 14},
 "encoding": {
  "x": {"datum": -11.45, "type": "quantitative", "scale": {"domain": [-11.7, 250], "nice": false, "zero": false}, "axis": null},
  "y": {"field": "v", "type": "quantitative", "scale": {"domain": [107.124, 111.549], "nice": false, "zero": false}, "axis": null},
  "text": {"field": "v", "type": "quantitative", "format": ".3f"},
  "fill": {"field": "k", "type": "nominal", "scale": {"domain": ["g","p","w","r"], "range": ["#e6e6e6","#6767dc","#ffffff","#e05a5a"]}, "legend": null}}},
{"data": {"name": "price"}, "mark": {"type": "rule", "color": "#d9a200", "strokeWidth": 1.5, "strokeDash": [6,5]},
 "encoding": {"y": {"field": "p", "type": "quantitative", "scale": {"domain": [107.124, 111.549], "nice": false, "zero": false}, "axis": null}}},
{"data": {"name": "candles"}, "mark": {"type": "rule", "strokeWidth": 1},
 "encoding": {
  "x": {"field": "b", "type": "quantitative", "scale": {"domain": [-11.7, 250], "nice": false, "zero": false},
        "axis": {"orient": "bottom", "values": [0,25,50,75,100,125,150,175,200,225,250], "grid": true, "gridColor": "#4c4c4c", "gridDash": [3,5], "labels": false, "ticks": false, "domain": true, "domainColor": "#6e6e6e", "domainWidth": 2, "title": null}},
  "y": {"field": "l", "type": "quantitative", "scale": {"domain": [107.124, 111.549], "nice": false, "zero": false},
        "axis": {"orient": "right", "offset": 13, "values": [107.2,107.3,107.4,107.5,107.6,107.7,107.8,107.9,108,108.1,108.2,108.3,108.4,108.5,108.6,108.7,108.8,108.9,109,109.1,109.2,109.3,109.4,109.5,109.6,109.7,109.8,109.9,110,110.1,110.2,110.3,110.4,110.5,110.6,110.7,110.8,110.9,111,111.1,111.2,111.3,111.4,111.5], "tickSize": -11, "tickColor": "#8c8c8c", "domainColor": "#6e6e6e", "grid": false, "labelExpr": "abs(datum.value*2 - round(datum.value*2)) < 0.01 ? format(datum.value, '.3f') : ''", "labelAlign": "right", "labelPadding": 75, "labelFont": "Lato", "labelFontSize": 14, "labelColor": "#e8e8e8", "labelOverlap": false, "labelBound": false, "title": null}},
  "y2": {"field": "h"},
  "color": {"condition": {"test": "datum.c >= datum.o", "value": "#f20000"}, "value": "#1a86e8"}}},
{"data": {"name": "candles"}, "mark": {"type": "bar", "size": 5.5},
 "encoding": {
  "x": {"field": "b", "type": "quantitative", "scale": {"domain": [-11.7, 250], "nice": false, "zero": false}, "axis": null},
  "y": {"field": "o", "type": "quantitative", "scale": {"domain": [107.124, 111.549], "nice": false, "zero": false}, "axis": null},
  "y2": {"field": "c"},
  "color": {"condition": {"test": "datum.c >= datum.o", "value": "#f20000"}, "value": "#1a86e8"}}},
{"data": {"name": "ma"}, "mark": {"type": "line", "strokeWidth": 1.5, "interpolate": "monotone"},
 "encoding": {
  "x": {"field": "b", "type": "quantitative", "scale": {"domain": [-11.7, 250], "nice": false, "zero": false}, "axis": null},
  "y": {"field": "v", "type": "quantitative", "scale": {"domain": [107.124, 111.549], "nice": false, "zero": false}, "axis": null},
  "color": {"field": "s", "type": "nominal", "scale": {"domain": ["10","25","75","200"], "range": ["#d19a1f","#20c420","#6b9bd0","#2479cc"]},
            "legend": {"orient": "none", "legendX": -8, "legendY": 38, "title": null, "direction": "vertical", "symbolSize": 0, "symbolOpacity": 0, "symbolStrokeWidth": 0, "labelOffset": 0, "padding": 0, "rowPadding": 4, "labelLimit": 400, "labelFont": "Lato, 'Noto Sans CJK JP'", "labelFontSize": 15,
                       "labelExpr": "'単純移動平均線 (' + datum.label + ', 終値)'",
                       "labelColor": {"expr": "datum.value == '10' ? '#d49a1e' : datum.value == '25' ? '#22c422' : datum.value == '75' ? '#8ab4e0' : '#2a80d0'"}}}}},
{"data": {"name": "trend"}, "mark": {"type": "line", "color": "#8ccc3c", "strokeWidth": 2.5},
 "encoding": {
  "x": {"field": "b", "type": "quantitative", "scale": {"domain": [-11.7, 250], "nice": false, "zero": false}, "axis": null},
  "y": {"field": "v", "type": "quantitative", "scale": {"domain": [107.124, 111.549], "nice": false, "zero": false}, "axis": null}}},
{"data": {"name": "zigzag"}, "mark": {"type": "line", "color": "#ffffff", "strokeWidth": 4, "strokeJoin": "round", "strokeCap": "round"},
 "encoding": {
  "x": {"field": "b", "type": "quantitative", "scale": {"domain": [-11.7, 250], "nice": false, "zero": false}, "axis": null},
  "y": {"field": "v", "type": "quantitative", "scale": {"domain": [107.124, 111.549], "nice": false, "zero": false}, "axis": null}}},
{"data": {"name": "price"}, "mark": {"type": "point", "shape": "triangle-left", "filled": true, "opacity": 1, "size": 190, "color": "#ffb300"},
 "encoding": {
  "x": {"datum": 251.1, "type": "quantitative", "scale": {"domain": [-11.7, 250], "nice": false, "zero": false}, "axis": null},
  "y": {"field": "p", "type": "quantitative", "scale": {"domain": [107.124, 111.549], "nice": false, "zero": false}, "axis": null}}},
{"data": {"name": "price"}, "mark": {"type": "tick", "orient": "horizontal", "size": 80, "thickness": 16, "opacity": 1, "color": "#ffb300"},
 "encoding": {
  "x": {"datum": 256.2, "type": "quantitative", "scale": {"domain": [-11.7, 250], "nice": false, "zero": false}, "axis": null},
  "y": {"field": "p", "type": "quantitative", "scale": {"domain": [107.124, 111.549], "nice": false, "zero": false}, "axis": null}}},
{"data": {"name": "price"}, "mark": {"type": "text", "align": "right", "baseline": "middle", "font": "Lato", "fontSize": 14, "color": "#2b2b2b"},
 "encoding": {
  "x": {"datum": 261.0, "type": "quantitative", "scale": {"domain": [-11.7, 250], "nice": false, "zero": false}, "axis": null},
  "y": {"field": "p", "type": "quantitative", "scale": {"domain": [107.124, 111.549], "nice": false, "zero": false}, "axis": null},
  "text": {"field": "p", "type": "quantitative", "format": ".3f"}}}
]
},
{
"width": 1815, "height": 103,
"view": {"fill": "#252525", "stroke": null},
"resolve": {"axis": {"y": "independent"}},
"layer": [
{"data": {"name": "stochLevels"}, "mark": {"type": "rule", "color": "#c2185b", "strokeWidth": 2},
 "encoding": {
  "y": {"field": "v", "type": "quantitative", "scale": {"domain": [-10, 118.75], "nice": false, "zero": false},
        "axis": {"orient": "left", "offset": 8, "values": [0,50,100], "grid": true, "gridColor": "#4c4c4c", "gridDash": [3,5], "labels": false, "ticks": false, "domain": true, "domainColor": "#3c3c3c", "domainWidth": 13, "minExtent": 7, "maxExtent": 7, "title": null}}}},
{"data": {"name": "stoch"}, "mark": {"type": "line", "strokeWidth": 1.6, "interpolate": "monotone"},
 "encoding": {
  "x": {"field": "b", "type": "quantitative", "scale": {"domain": [-11.7, 250], "nice": false, "zero": false},
        "axis": {"orient": "bottom", "offset": 11, "values": [-10,-5,0,5,10,15,20,25,30,35,40,45,50,55,60,65,70,75,80,85,90,95,100,105,110,115,120,125,130,135,140,145,150,155,160,165,170,175,180,185,190,195,200,205,210,215,220,225,230,235,240,245,250],
                 "domainColor": "#8a8a8a", "domainWidth": 1.5, "tickColor": "#8a8a8a",
                 "tickSize": {"condition": {"test": "datum.value % 25 == 0", "value": -10}, "value": -5},
                 "grid": true, "gridColor": "#4c4c4c", "gridDash": [3,5],
                 "gridOpacity": {"condition": {"test": "datum.value % 25 == 0", "value": 1}, "value": 0},
                 "labelExpr": "(datum.value % 25 == 0 && datum.value >= 0) ? ['09/26 03:00','09/27 04:00','09/28 05:00','09/29 06:00','10/02 08:00','10/03 09:00','10/04 10:00','10/05 11:00','10/06 12:00','10/09 14:00','10/10'][datum.value/25] : ''",
                 "labelOverlap": false, "labelFlush": true, "labelPadding": 17, "labelFont": "Lato", "labelFontSize": 15, "labelColor": "#e2e2e2", "title": null}},
  "y": {"field": "v", "type": "quantitative", "scale": {"domain": [-10, 118.75], "nice": false, "zero": false},
        "axis": {"orient": "right", "offset": 13, "values": [0,10,20,30,40,50,60,70,80,90,100], "tickSize": -11, "tickColor": "#8c8c8c", "domainColor": "#6e6e6e", "grid": false, "labelExpr": "datum.value % 50 == 0 ? format(datum.value, '.2f') : ''", "labelAlign": "right", "labelPadding": 75, "labelFont": "Lato", "labelFontSize": 14, "labelColor": "#e8e8e8", "labelOverlap": false, "title": null}},
  "color": {"field": "s", "type": "nominal", "scale": {"domain": ["K","D"], "range": ["#1a9ed4","#e4e41c"]},
            "legend": {"orient": "none", "legendX": -8, "legendY": 20, "values": ["K"], "title": null, "symbolSize": 0, "symbolOpacity": 0, "symbolStrokeWidth": 0, "labelOffset": 0, "padding": 0, "labelLimit": 400, "labelFont": "Lato, 'Noto Sans CJK JP'", "labelFontSize": 15, "labelColor": "#1a9ed4",
                       "labelExpr": "'スローストキャスティクス (25, 3, 3)'"}}}}
]
}
]
}
